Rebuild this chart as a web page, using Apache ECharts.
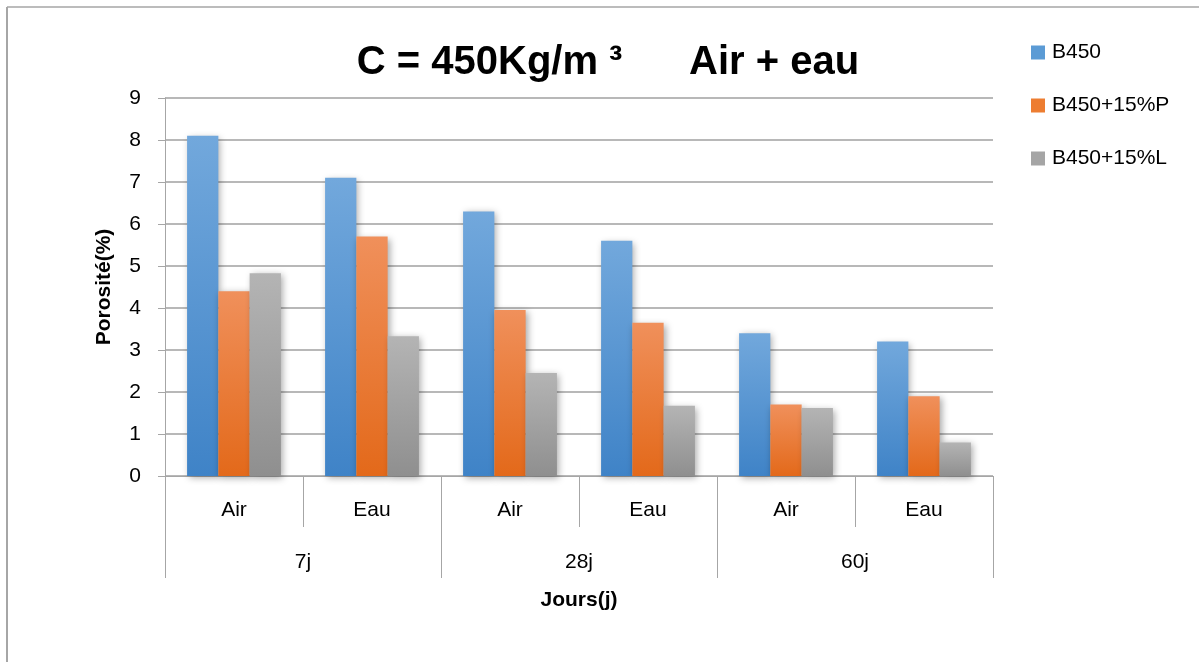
<!DOCTYPE html>
<html>
<head>
<meta charset="utf-8">
<script src="https://cdn.jsdelivr.net/npm/echarts@6/dist/echarts.min.js"></script>
<style>
  html, body { margin: 0; padding: 0; background: #fff; }
  #chart { width: 1199px; height: 662px; }
</style>
</head>
<body>
<div id="chart"></div>
<script>
// Porosity (%) per curing age and curing medium
const conditions = ['Air', 'Eau', 'Air', 'Eau', 'Air', 'Eau'];
const ages = ['7j', '28j', '60j'];
const seriesNames = ['B450', 'B450+15%P', 'B450+15%L'];
const b450 = [8.1, 7.1, 6.3, 5.6, 3.4, 3.2];
const b450P = [4.4, 5.7, 3.95, 3.65, 1.7, 1.9];
const b450L = [4.83, 3.33, 2.45, 1.67, 1.62, 0.8];
const yTicks = [0, 1, 2, 3, 4, 5, 6, 7, 8, 9];

const FONT = 'Liberation Sans, Arial, sans-serif';

function grad(top, bottom) {
  return new echarts.graphic.LinearGradient(0, 0, 0, 1, [
    { offset: 0, color: top },
    { offset: 1, color: bottom }
  ]);
}

const palette = [
  grad('#72a8dc', '#3f83c7'),
  grad('#f0905b', '#e3691a'),
  grad('#b4b4b4', '#8f8f8f')
];
const legendColors = ['#5b9bd5', '#ed7d31', '#a5a5a5'];

const chart = echarts.init(document.getElementById('chart'));

function barSeries(name, data, i) {
  return {
    name: name,
    type: 'bar',
    xAxisIndex: 0,
    data: data,
    barGap: '0%',
    barCategoryGap: '32%',
    itemStyle: {
      color: palette[i],
      shadowBlur: 7,
      shadowColor: 'rgba(0,0,0,0.35)',
      shadowOffsetX: 2,
      shadowOffsetY: 2
    }
  };
}

chart.setOption({
  animation: false,
  backgroundColor: '#ffffff',
  title: {
    text: 'C = 450Kg/m ³      Air + eau',
    left: 603,
    textAlign: 'center',
    top: 38,
    textStyle: { fontFamily: FONT, fontSize: 40, fontWeight: 'bold', color: '#000' }
  },
  legend: {
    orient: 'vertical',
    left: 1026,
    top: 37,
    itemGap: 32,
    itemWidth: 14,
    itemHeight: 14,
    icon: 'rect',
    textStyle: { fontFamily: FONT, fontSize: 21, color: '#000', padding: [0, 0, 0, 2] },
    data: seriesNames.map((n, i) => ({ name: n, itemStyle: { color: legendColors[i] } }))
  },
  grid: { left: 165, right: 206, top: 98, bottom: 186, containLabel: false },
  xAxis: [
    {
      type: 'category',
      data: conditions,
      position: 'bottom',
      axisLine: { lineStyle: { color: '#a6a6a6', width: 1 } },
      axisTick: { show: true, interval: 0, length: 51, lineStyle: { color: '#a6a6a6' } },
      axisLabel: { interval: 0, margin: 24, fontFamily: FONT, fontSize: 21, color: '#000' }
    },
    {
      type: 'category',
      data: ages,
      position: 'bottom',
      axisLine: { show: false },
      axisTick: { show: true, interval: 0, length: 102, lineStyle: { color: '#a6a6a6' } },
      axisLabel: { interval: 0, margin: 76, fontFamily: FONT, fontSize: 21, color: '#000' },
      name: 'Jours(j)',
      nameLocation: 'middle',
      nameGap: 114,
      nameTextStyle: { fontFamily: FONT, fontSize: 21, fontWeight: 'bold', color: '#000' }
    }
  ],
  yAxis: {
    type: 'value',
    min: yTicks[0],
    max: yTicks[yTicks.length - 1],
    interval: 1,
    name: 'Porosité(%)',
    nameLocation: 'middle',
    nameGap: 50,
    nameTextStyle: { fontFamily: FONT, fontSize: 21, fontWeight: 'bold', color: '#000' },
    axisLine: { show: true, lineStyle: { color: '#a6a6a6', width: 1 } },
    axisTick: { show: true, length: 7, lineStyle: { color: '#a6a6a6' } },
    axisLabel: { margin: 24, fontFamily: FONT, fontSize: 21, color: '#000' },
    splitLine: { show: true, lineStyle: { color: '#a0a0a0', width: 1.5 } }
  },
  series: [
    barSeries(seriesNames[0], b450, 0),
    barSeries(seriesNames[1], b450P, 1),
    barSeries(seriesNames[2], b450L, 2)
  ],
  graphic: [
    { type: 'line', shape: { x1: 7, y1: 7, x2: 1199, y2: 7 }, style: { stroke: '#a6a6a6', lineWidth: 1.5 } },
    { type: 'line', shape: { x1: 7, y1: 7, x2: 7, y2: 662 }, style: { stroke: '#a6a6a6', lineWidth: 2 } }
  ]
});
</script>
</body>
</html>
